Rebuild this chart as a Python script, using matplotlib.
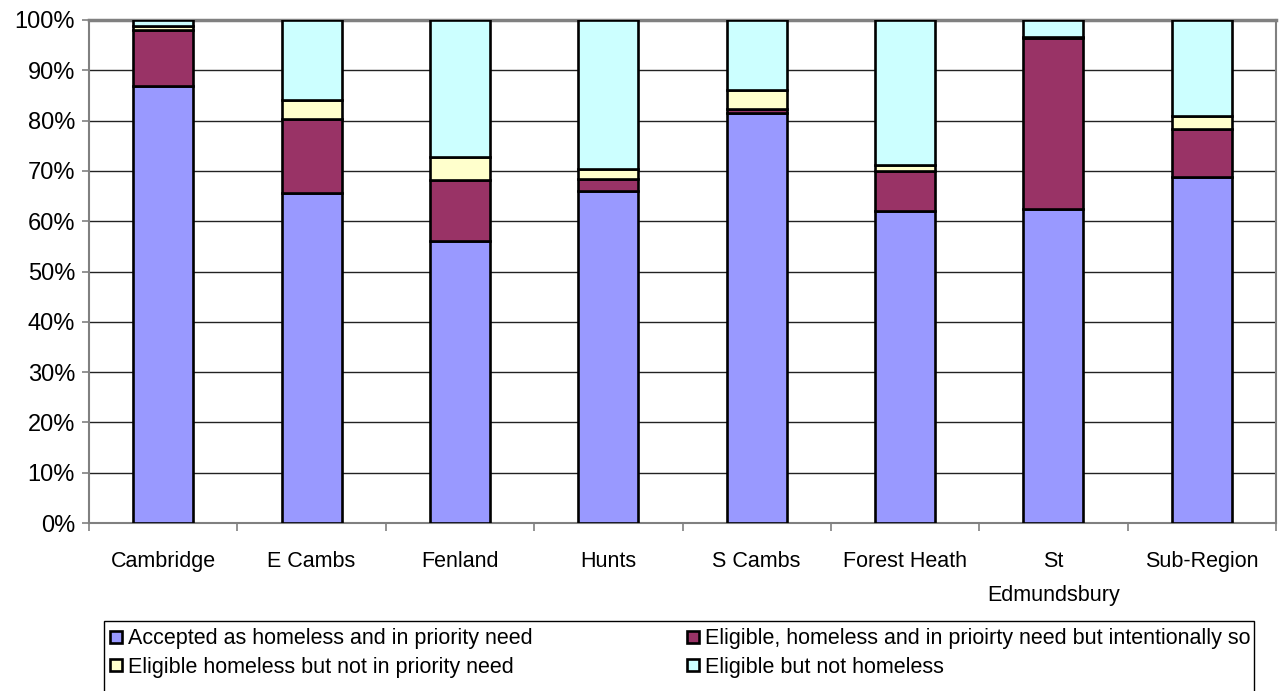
import matplotlib
matplotlib.use("Agg")
import matplotlib.pyplot as plt
import numpy as np
from matplotlib.ticker import FixedLocator, PercentFormatter
from matplotlib.patches import Rectangle

categories = ["Cambridge", "E Cambs", "Fenland", "Hunts", "S Cambs",
              "Forest Heath", "St\nEdmundsbury", "Sub-Region"]
accepted = [86.8, 65.7, 56.0, 66.1, 81.5, 62.0, 62.5, 68.8]
intentional = [11.3, 14.6, 12.1, 2.2, 0.8, 7.9, 34.0, 9.5]
not_priority = [0.8, 3.7, 4.7, 2.0, 3.8, 1.2, 0.2, 2.6]
not_homeless = [1.1, 16.0, 27.2, 29.7, 13.9, 28.9, 3.3, 19.1]

series_names = ["Accepted as homeless and in priority need",
                "Eligible, homeless and in prioirty need but intentionally so",
                "Eligible homeless but not in priority need",
                "Eligible but not homeless"]
colors = ["#9999FF", "#993366", "#FFFFCC", "#CCFFFF"]

plt.rcParams['font.family'] = ['Liberation Sans', 'DejaVu Sans']

W, H = 1279, 691
fig = plt.figure(figsize=(W / 100, H / 100), dpi=100)
ax = fig.add_axes([89 / W, (H - 523) / H, (1276 - 89) / W, (523 - 20) / H])

x = np.arange(len(categories))
data = [accepted, intentional, not_priority, not_homeless]
bottom = np.zeros(len(categories))
handles = []
for vals, c, name in zip(data, colors, series_names):
    v = np.array(vals)
    b = ax.bar(x, v, bottom=bottom, width=0.405, color=c, edgecolor="black",
               linewidth=1.9, label=name, zorder=3)
    handles.append(b)
    bottom += v

ax.set_xlim(-0.5, len(categories) - 0.5)
ax.set_ylim(0, 100)
ax.yaxis.set_major_locator(FixedLocator(np.arange(0, 101, 10)))
ax.yaxis.set_major_formatter(PercentFormatter(decimals=0))
ax.grid(axis="y", color="#222222", linewidth=1.0, zorder=0)
ax.set_axisbelow(True)

ax.set_xticks(x)
ax.set_xticklabels(categories, fontsize=15.5, linespacing=1.85)
ax.tick_params(axis="x", which="major", length=0, pad=20)
ax.set_xticks(np.arange(-0.5, len(categories) + 0.5, 1), minor=True)
ax.tick_params(axis="x", which="minor", length=6, color="#808080", width=1.2)
ax.tick_params(axis="y", labelsize=17, length=5, color="#808080", width=1.2, pad=5)

for s in ["left", "bottom", "top", "right"]:
    ax.spines[s].set_color("#808080")
    ax.spines[s].set_linewidth(1.5)
ax.spines["top"].set_linewidth(2.5)

# legend box (extends past the bottom edge as in the original)
fig.patches.append(Rectangle((104 / W, -0.05), (1254 - 104) / W, (H - 621) / H + 0.05,
                             transform=fig.transFigure, facecolor="white",
                             edgecolor="black", linewidth=1.0, zorder=1))

order = [0, 2, 1, 3]
leg = fig.legend(handles=[handles[i] for i in order],
                 labels=[series_names[i] for i in order],
                 loc="upper left", bbox_to_anchor=(104 / W, (H - 622) / H),
                 ncol=2, fontsize=15.5, frameon=False,
                 handlelength=0.55, handleheight=0.5, handletextpad=0.25,
                 columnspacing=7.2, borderpad=0.3, labelspacing=0.35,
                 borderaxespad=0)
leg.set_zorder(2)

fig.savefig("out.png", dpi=100)
